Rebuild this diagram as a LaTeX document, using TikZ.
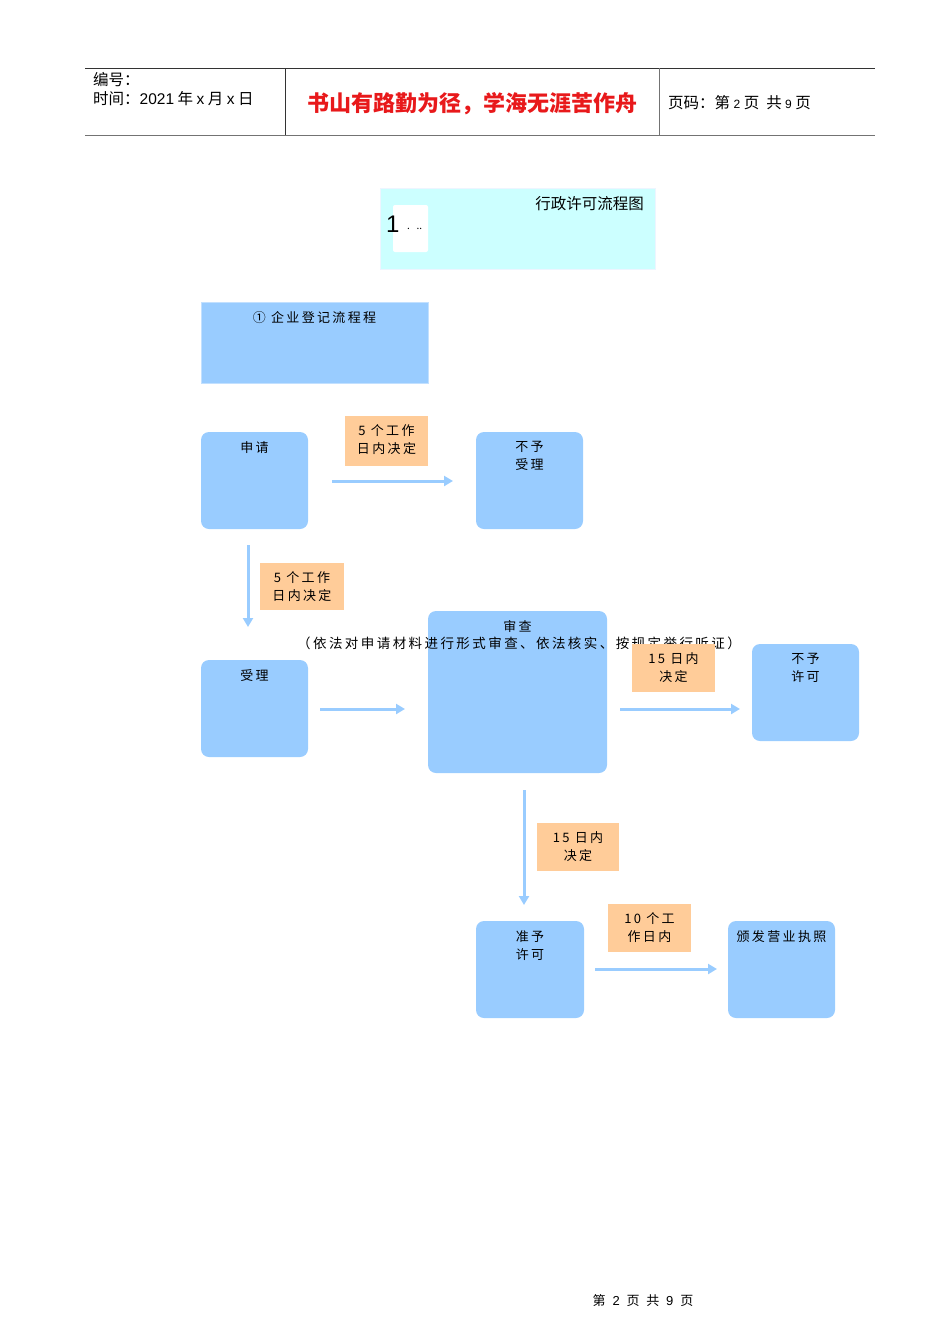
\documentclass[tikz,border=0pt]{standalone}
\usepackage{fontspec}
\setmainfont{Noto Sans CJK SC}
\newfontfamily\cjk{Noto Sans CJK SC}
\newfontfamily\cjksp[LetterSpace=18]{Noto Sans CJK SC}
\newfontfamily\cjkwide[LetterSpace=30]{Noto Sans CJK SC}
\newfontfamily\lsans{Liberation Sans}
\usetikzlibrary{arrows.meta}
\definecolor{boxblue}{HTML}{99CCFF}
\definecolor{boxorange}{HTML}{FFCC99}
\definecolor{boxcyan}{HTML}{CCFFFF}
\definecolor{titlered}{HTML}{E8191B}
\tikzset{
  x=1pt,y=-1pt,
  bluebox/.style={fill=boxblue,draw=none,rounded corners=8pt},
  sqbox/.style={fill=boxblue,draw=boxblue!60!white,line width=0.6pt},
  orbox/.style={fill=boxorange,draw=none},
  lbl/.style={font=\fontsize{13}{18}\selectfont\cjksp,align=center,anchor=north,inner sep=0pt},
  hdr/.style={anchor=west,inner sep=0pt,font=\fontsize{15.5}{17}\selectfont\cjk},
  flow/.style={draw=boxblue,line width=3pt,-{Triangle[length=9pt,width=10pt]}},
}
\begin{document}
\begin{tikzpicture}
\useasboundingbox (0,0) rectangle (950,1344);
% header
\draw[line width=0.8pt,black!80] (85,68) -- (875,68);
\draw[line width=1.4pt,black!55] (85,135.5) -- (875,135.5);
\draw[line width=0.8pt,black!80] (285.5,68) -- (285.5,135);
\draw[line width=0.8pt,black!55] (659,68) -- (659,135);
\node[hdr] (hd1) at (93,80) {编号：};
\node[hdr] (hd2) at (93,99) {时间：{\lsans 2021} 年 {\lsans x} 月 {\lsans x} 日};
\node[anchor=center,inner sep=0pt,text=titlered,font=\fontsize{22}{24}\selectfont\bfseries] (hd3) at (472,104) {书山有路勤为径，学海无涯苦作舟};
\node[hdr] (hd4) at (668,103) {页码：第 {\fontsize{12}{13}\selectfont\lsans 2} 页\ \ 共 {\fontsize{12}{13}\selectfont\lsans 9} 页};
% title box
\path[fill=boxcyan,draw=boxcyan!80!blue!20] (380,188) rectangle (655,269);
\path[fill=white,rounded corners=2pt] (393,205) rectangle (428,252);
\node[anchor=west,inner sep=0pt,font=\fontsize{24}{26}\selectfont\lsans] (num) at (386,224) {1};
\node[anchor=west,inner sep=0pt,font=\fontsize{10}{12}\selectfont] (dots) at (407,229) {.\ \ \ ..};
\node[anchor=east,inner sep=0pt,font=\fontsize{15.5}{17}\selectfont] (ttl) at (644,204) {行政许可流程图};
% section box
\path[sqbox] (201,302) rectangle (428,383);
\node[lbl] (sec) at (314.5,311) {① 企业登记流程程};
% rounded boxes
\path[bluebox] (201,432) rectangle (308,529);
\node[lbl] (sq) at (254.5,441) {申请};
\path[bluebox] (476,432) rectangle (583,529);
\node[lbl] (bysl) at (529.5,441) {不予\\受理};
\path[bluebox] (201,660) rectangle (308,757);
\node[lbl] (sl) at (254.5,669) {受理};
\path[bluebox] (428,611) rectangle (607,773);
\node[lbl] (sc) at (517.5,620) {审查};
\node[anchor=north,inner sep=0pt,font=\fontsize{13.5}{18}\selectfont\cjksp] (scd) at (519,637) {（依法对申请材料进行形式审查、依法核实、按规定举行听证）};
\path[bluebox] (752,644) rectangle (859,741);
\node[lbl] (byxk) at (805.5,653) {不予\\许可};
\path[bluebox] (476,921) rectangle (584,1018);
\node[lbl] (zyxk) at (530,930) {准予\\许可};
\path[bluebox] (728,921) rectangle (835,1018);
\node[lbl] (bfzz) at (781.5,930) {颁发营业执照};
% orange boxes
\path[orbox] (345,416) rectangle (428,466);
\node[lbl] (o1) at (386.5,424) {5 个工作\\日内决定};
\path[orbox] (260,563) rectangle (344,610);
\node[lbl] (o2) at (302,571) {5 个工作\\日内决定};
\path[orbox] (632,644) rectangle (715,692);
\node[lbl] (o3) at (673.5,652) {15 日内\\决定};
\path[orbox] (537,823) rectangle (619,871);
\node[lbl] (o4) at (578,831) {15 日内\\决定};
\path[orbox] (608,904) rectangle (691,952);
\node[lbl] (o5) at (649.5,912) {10 个工\\作日内};
% arrows
\coordinate (a1s) at (332,481); \coordinate (a1e) at (453,481);
\coordinate (a2s) at (248,545); \coordinate (a2e) at (248,627);
\coordinate (a3s) at (320,709); \coordinate (a3e) at (405,709);
\coordinate (a4s) at (620,709); \coordinate (a4e) at (740,709);
\coordinate (a5s) at (524,790); \coordinate (a5e) at (524,905);
\coordinate (a6s) at (595,969); \coordinate (a6e) at (717,969);
\draw[flow] (a1s) -- (a1e);
\draw[flow] (a2s) -- (a2e);
\draw[flow] (a3s) -- (a3e);
\draw[flow] (a4s) -- (a4e);
\draw[flow] (a5s) -- (a5e);
\draw[flow] (a6s) -- (a6e);
% footer
\node[inner sep=0pt,font=\fontsize{13}{14}\selectfont\cjkwide] (ft) at (643,1301) {第 {\lsans 2} 页 共 {\lsans 9} 页};
\end{tikzpicture}
\end{document}
